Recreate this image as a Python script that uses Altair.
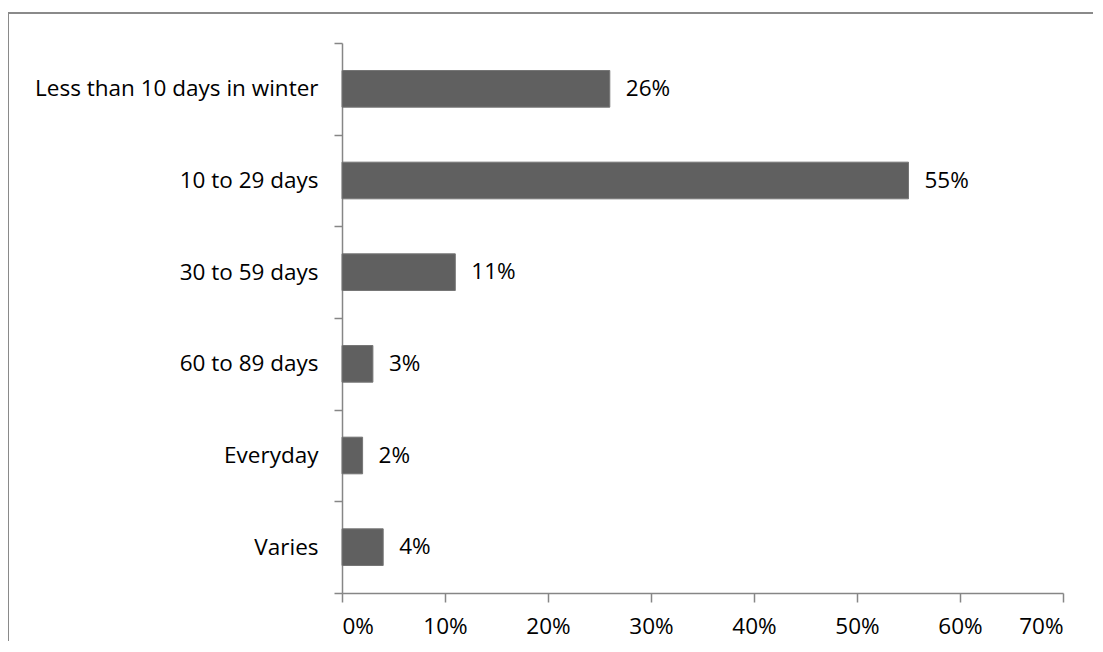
import altair as alt
import pandas as pd

categories = ["Less than 10 days in winter", "10 to 29 days", "30 to 59 days",
              "60 to 89 days", "Everyday", "Varies"]
values = [0.26, 0.55, 0.11, 0.03, 0.02, 0.04]
x_ticks = [0, 0.1, 0.2, 0.3, 0.4, 0.5, 0.6, 0.7]

df = pd.DataFrame({"cat": categories, "val": values})

FONT = "Open Sans"
FS = 22.5
AX = "#868686"

y_enc = alt.Y("cat:N", sort=categories, title=None,
              scale=alt.Scale(paddingInner=0, paddingOuter=0),
              axis=alt.Axis(tickBand="extent", domainColor=AX, tickColor=AX,
                            domainWidth=1.5, tickWidth=1.5, tickSize=8,
                            labelPadding=16, labelFont=FONT, labelFontSize=FS,
                            labelColor="black", labelLimit=400))
x_enc = alt.X("val:Q", title=None,
              scale=alt.Scale(domain=[0, 0.7], nice=False),
              axis=alt.Axis(values=x_ticks, format=".0%", grid=False,
                            domainColor=AX, tickColor=AX, domainWidth=1.5,
                            tickWidth=1.5, tickSize=9, labelPadding=13,
                            labelFont=FONT, labelFontSize=FS, labelColor="black"))

base = alt.Chart(df)
bars = base.mark_bar(color="#606060", stroke="#767676", strokeWidth=1,
                     height=alt.RelativeBandSize(0.4)).encode(x=x_enc, y=y_enc)
labels = base.mark_text(align="left", baseline="middle", dx=16, font=FONT,
                        fontSize=FS, color="black").encode(
    x="val:Q", y=alt.Y("cat:N", sort=categories), text=alt.Text("val:Q", format=".0%"))

border_v = alt.Chart(df).mark_rule(color="#8a8a8a", strokeWidth=2, clip=False).encode(
    x=alt.value(-334), y=alt.value(-30), y2=alt.value(700))
border_h = alt.Chart(df).mark_rule(color="#8a8a8a", strokeWidth=2, clip=False).encode(
    x=alt.value(-334), x2=alt.value(800), y=alt.value(-30))

chart = alt.layer(bars, labels, border_v, border_h).properties(
    width=721, height=550, background="white",
    view=alt.ViewBackground(stroke="transparent", strokeWidth=0),
    autosize=alt.AutoSizeParams(type="none"),
    padding={"left": 334, "top": 35, "right": 30, "bottom": 48},
).configure_view(stroke="transparent", strokeOpacity=0, strokeWidth=0)

chart.save("out.html", embed_options={"renderer": "svg", "actions": False})
